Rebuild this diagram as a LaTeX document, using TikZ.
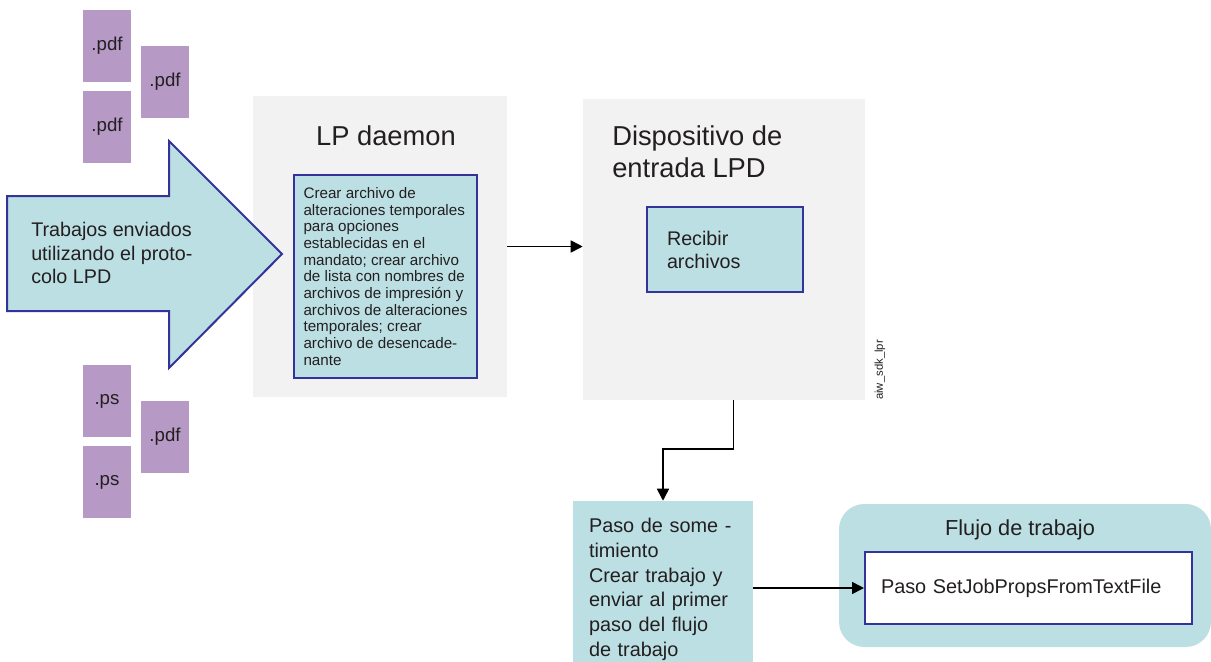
\documentclass[tikz,border=0pt]{standalone}
\usepackage{fontspec}
\setmainfont{Liberation Sans}
\usetikzlibrary{arrows.meta}

\definecolor{filepurple}{HTML}{B799C6}
\definecolor{boxblue}{HTML}{BCDFE3}
\definecolor{edgeblue}{HTML}{333399}
\definecolor{panelgrey}{HTML}{F2F2F2}
\definecolor{inkgrey}{HTML}{231F20}

\begin{document}
\begin{tikzpicture}
  [
    x = 0.75pt, y = -0.75pt,
    every node/.style = {text = inkgrey},
    filebox/.style = {fill = filepurple, minimum width = 36pt, minimum height = 54pt,
        inner sep = 0pt, font = \fontsize{14}{17}\selectfont},
    panel/.style = {fill = panelgrey, inner sep = 0pt},
    stepbox/.style = {fill = boxblue, draw = edgeblue, line width = 1.5pt, align = left},
    flow/.style = {-{Triangle[length = 9pt, width = 9pt]}, line width = 1.2pt},
  ]

  \useasboundingbox (0,0) rectangle (1211,661);

  \node[panel, minimum width = 190.5pt, minimum height = 225.75pt] (daemon) at (380,246.5) {};
  \node[panel, minimum width = 211.5pt, minimum height = 225.75pt] (device) at (724,249.5) {};

  \foreach \n/\x/\y/\ext in {a/107/46/.pdf, b/165/82/.pdf, c/107/127/.pdf,
      d/107/401/.ps, e/165/437/.pdf, f/107/482/.ps}{
      \node[filebox] (file\n) at (\x,\y) {\ext};
    }

  \draw[fill = boxblue, draw = edgeblue, line width = 1.5pt]
  (7,196) -- (169,196) -- (169,141) -- (282,254) -- (169,368) -- (169,311) -- (7,311) -- cycle;
  \node[anchor = west, align = left, inner sep = 0pt, font = \fontsize{14.8}{17.5}\selectfont]
  (jobs) at (31,253) {Trabajos enviados\\utilizando el proto-\\colo LPD};

  \node[anchor = base, font = \fontsize{20.5}{24}\selectfont] (daemontitle) at (386,145) {LP daemon};
  \node[anchor = north west, inner sep = 0pt, align = left, font = \fontsize{20.5}{24}\selectfont]
  (devicetitle) at (612,125) {Dispositivo de\\entrada LPD};

  \node[stepbox, minimum width = 137.25pt, minimum height = 152.25pt,
    font = \fontsize{11.4}{12.5}\selectfont] (create) at (385.5,276.5)
  {Crear archivo de\\alteraciones temporales\\para opciones\\establecidas en el\\mandato; crear archivo\\de lista con nombres de\\archivos de impresión y\\archivos de alteraciones\\temporales; crear\\archivo de desencade-\\nante};

  \node[stepbox, minimum width = 117pt, minimum height = 63.75pt, text width = 87pt,
    inner xsep = 15pt, font = \fontsize{14.8}{17.3}\selectfont] (receive) at (725,249.5)
  {Recibir\\archivos};

  \node[rotate = 90, inner sep = 0pt, font = \fontsize{8.5}{10}\selectfont] (tag) at (880,370) {aiw\_sdk\_lpr};

  \node[fill = boxblue, minimum width = 135pt, minimum height = 132.75pt, text width = 111pt,
    inner xsep = 12pt, align = left, font = \fontsize{14.9}{18.5}\selectfont] (submit) at (663,589.5)
  {Paso de some -\\timiento\\Crear trabajo y\\enviar al primer\\paso del flujo\\de trabajo};

  \node[fill = boxblue, rounded corners = 19pt, minimum width = 279pt, minimum height = 107.25pt]
  (workflow) at (1025,575.5) {};
  \node[anchor = base, font = \fontsize{16.3}{19}\selectfont] (workflowtitle) at (1020,535) {Flujo de trabajo};
  \node[stepbox, fill = white, minimum width = 245.25pt, minimum height = 54pt, text width = 221.25pt,
    inner xsep = 12pt, font = \fontsize{14.9}{18}\selectfont] (setprops) at (1028.5,588)
  {Paso SetJobPropsFromTextFile};

  \draw[flow] (daemon.east) -- (daemon.east -| device.west);
  \draw[flow] ([xshift = 7pt]device.south) -- ++(0,49) -| (submit.north);
  \draw[flow] (setprops.west -| submit.east) -- (setprops.west);

\end{tikzpicture}
\end{document}
